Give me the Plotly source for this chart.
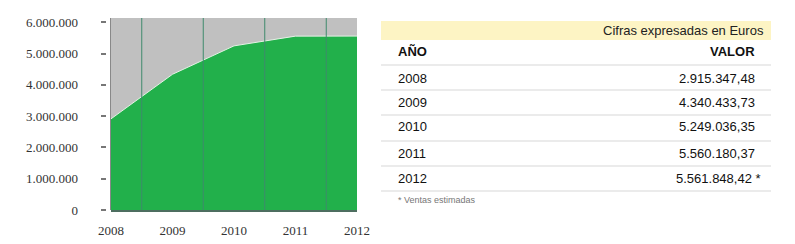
import plotly.graph_objects as go

W, H = 795, 244

years = [2008, 2009, 2010, 2011, 2012]
values = [2915347.48, 4340433.73, 5249036.35, 5560180.37, 5561848.42]
value_labels = ["2.915.347,48", "4.340.433,73", "5.249.036,35", "5.560.180,37", "5.561.848,42 *"]
y_tickvals = [0, 1000000, 2000000, 3000000, 4000000, 5000000, 6000000]
y_ticktext = ["0", "1.000.000", "2.000.000", "3.000.000", "4.000.000", "5.000.000", "6.000.000"]
table_title = "Cifras expresadas en Euros"
col_headers = ["AÑO", "VALOR"]
footnote = "* Ventas estimadas"

def px(x):
    return x / W

def py(y):
    return 1 - y / H

fig = go.Figure()
fig.add_trace(go.Scatter(
    x=years, y=values, mode="lines", fill="tozeroy",
    fillcolor="#22b04b", line=dict(color="#e6f2e6", width=1),
    hoverinfo="skip", showlegend=False,
))

shapes = []
# separators between years
for a, b in zip(years[:-1], years[1:]):
    m = (a + b) / 2
    shapes.append(dict(type="line", xref="x", yref="paper", x0=m, x1=m,
                       y0=py(210), y1=py(18), layer="above",
                       line=dict(color="#3f8a6c", width=1)))
# table band
shapes.append(dict(type="rect", xref="paper", yref="paper", x0=px(381), x1=px(771),
                   y0=py(40), y1=py(21), fillcolor="#fdf4c4", line=dict(width=0), layer="below"))
for yl in [65, 90, 115, 141, 166, 191]:
    shapes.append(dict(type="line", xref="paper", yref="paper", x0=px(381), x1=px(771),
                       y0=py(yl), y1=py(yl), line=dict(color="#e4e4e4", width=1.5)))
# left axis line
shapes.append(dict(type="line", xref="paper", yref="paper", x0=px(110.5), x1=px(110.5),
                   y0=py(210), y1=py(18), line=dict(color="#888", width=1)))

annotations = []
sans = "Liberation Sans, Arial, sans-serif"
annotations.append(dict(xref="paper", yref="paper", x=px(766), y=py(30), text=table_title,
                        showarrow=False, xanchor="right", yanchor="middle",
                        font=dict(family=sans, size=13, color="#222")))
annotations.append(dict(xref="paper", yref="paper", x=px(396), y=py(51.5), text="<b>%s</b>" % col_headers[0],
                        showarrow=False, xanchor="left", yanchor="middle",
                        font=dict(family=sans, size=13, color="#111")))
annotations.append(dict(xref="paper", yref="paper", x=px(757), y=py(51.5), text="<b>%s</b>" % col_headers[1],
                        showarrow=False, xanchor="right", yanchor="middle",
                        font=dict(family=sans, size=13, color="#111")))
row_y = [78, 102, 127, 153.5, 178.5]
for yr, lbl, ry in zip(years, value_labels, row_y):
    annotations.append(dict(xref="paper", yref="paper", x=px(396), y=py(ry), text=str(yr),
                            showarrow=False, xanchor="left", yanchor="middle",
                            font=dict(family=sans, size=13, color="#111")))
    annotations.append(dict(xref="paper", yref="paper", x=px(757 + (6 if lbl.endswith("*") else 0)), y=py(ry), text=lbl,
                            showarrow=False, xanchor="right", yanchor="middle",
                            font=dict(family=sans, size=13, color="#111")))
annotations.append(dict(xref="paper", yref="paper", x=px(396), y=py(199.5), text=footnote,
                        showarrow=False, xanchor="left", yanchor="middle",
                        font=dict(family=sans, size=9, color="#777")))

serif = "Liberation Serif, Times New Roman, serif"
fig.update_layout(
    width=W, height=H,
    margin=dict(l=0, r=0, t=0, b=0, pad=0, autoexpand=False),
    paper_bgcolor="white",
    plot_bgcolor="#c0c0c0",
    shapes=shapes,
    annotations=annotations,
    xaxis=dict(domain=[px(111), px(357)], range=[years[0], years[-1]],
               tickvals=years, ticktext=[str(y) for y in years],
               showgrid=False, zeroline=False, ticks="", automargin=False,
               ticklabelstandoff=8,
               showline=True, linecolor="#4d6e60", linewidth=1.5,
               tickfont=dict(family=serif, size=13, color="#333")),
    yaxis=dict(domain=[py(210), py(18)], range=[0, 6140000],
               anchor="free", position=px(105.5), automargin=False,
               tickvals=y_tickvals, ticktext=y_ticktext,
               ticks="outside", ticklen=5, tickcolor="#777", tickwidth=1.5,
               showgrid=False, zeroline=False, showline=False,
               ticklabelstandoff=20,
               tickfont=dict(family=serif, size=13, color="#333")),
)

fig.write_html("out.html")
